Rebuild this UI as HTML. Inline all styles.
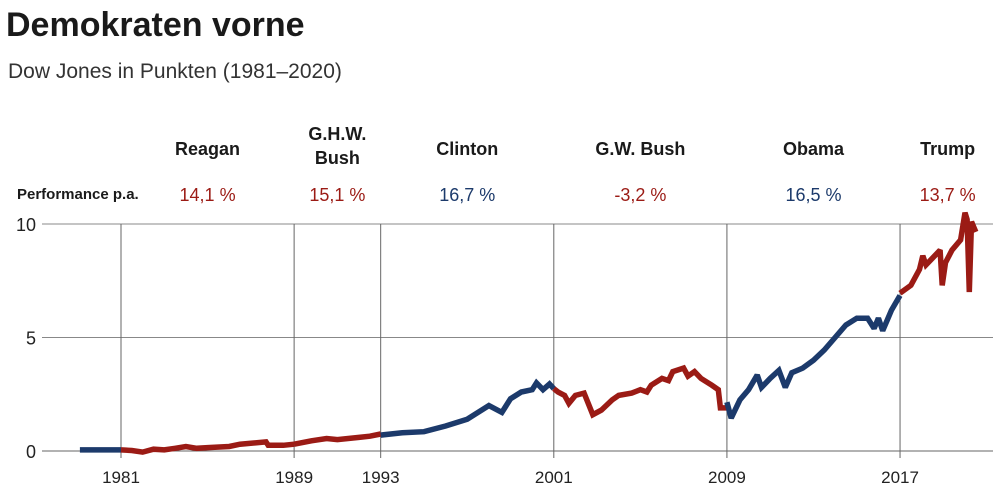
<!DOCTYPE html>
<html><head><meta charset="utf-8"><style>
body{margin:0;background:#fff;width:1000px;height:489px;overflow:hidden;font-family:"Liberation Sans",sans-serif}
svg{position:absolute;left:0;top:0}
</style></head><body>
<svg width="1000" height="489" font-family="Liberation Sans, sans-serif">
<text x="6" y="36" font-size="34" font-weight="bold" fill="#1a1a1a">Demokraten vorne</text>
<text x="8" y="78" font-size="21" fill="#333">Dow Jones in Punkten (1981–2020)</text>
<text x="17" y="199" font-size="15" font-weight="bold" fill="#1a1a1a">Performance p.a.</text>
<g id="grid"></g>
<g id="labels"></g>
<g id="lines"></g>
</svg>
<script>
const yTicks=[0,5,10];
const xTickYears=[1981,1989,1993,2001,2009,2017];
const presidents=["Reagan","G.H.W.|Bush","Clinton","G.W. Bush","Obama","Trump"];
const perf=["14,1 %","15,1 %","16,7 %","-3,2 %","16,5 %","13,7 %"];
const party=["r","r","d","r","d","r"];
const labelYears=[1985,1991,1997,2005,2013,2019.2];
const segCarter=[[1979.1,0.05],[1981,0.05]];
const segReagan=[[1981,0.05],[1981.5,0.02],[1982,-0.05],[1982.5,0.08],[1983,0.05],[1983.5,0.12],[1984,0.2],[1984.5,0.12],[1985,0.15],[1986,0.2],[1986.5,0.3],[1987.7,0.4],[1987.8,0.25],[1988.5,0.25],[1989,0.3]];
const segBush=[[1989,0.3],[1989.8,0.45],[1990.5,0.55],[1991,0.5],[1992,0.6],[1992.5,0.65],[1993,0.75]];
const segClinton=[[1993,0.7],[1994,0.8],[1995,0.85],[1996,1.1],[1997,1.4],[1998,2.0],[1998.6,1.7],[1999,2.3],[1999.5,2.6],[2000,2.7],[2000.2,3.0],[2000.5,2.7],[2000.8,2.95],[2001,2.75]];
const segGWB=[[2001,2.75],[2001.2,2.6],[2001.5,2.45],[2001.7,2.1],[2002,2.45],[2002.4,2.55],[2002.8,1.6],[2003.2,1.8],[2003.7,2.25],[2004,2.45],[2004.6,2.55],[2005,2.7],[2005.3,2.6],[2005.5,2.9],[2006,3.2],[2006.3,3.1],[2006.5,3.5],[2007,3.65],[2007.2,3.3],[2007.5,3.5],[2007.8,3.2],[2008.3,2.9],[2008.6,2.7],[2008.7,1.9],[2009,1.9]];
const segObama=[[2009,2.15],[2009.2,1.45],[2009.6,2.25],[2010,2.7],[2010.4,3.35],[2010.6,2.8],[2011,3.2],[2011.4,3.55],[2011.7,2.8],[2012,3.45],[2012.5,3.65],[2013,4.0],[2013.5,4.45],[2014,5.0],[2014.5,5.55],[2015,5.85],[2015.5,5.85],[2015.8,5.4],[2016,5.85],[2016.2,5.3],[2016.6,6.2],[2017,6.85]];
const segTrump=[[2017,6.95],[2017.5,7.3],[2017.9,8.0],[2018.05,8.6],[2018.2,8.2],[2018.6,8.6],[2018.85,8.85],[2018.95,7.3],[2019.1,8.3],[2019.4,8.85],[2019.8,9.3],[2020,10.5],[2020.1,10.2],[2020.2,7.0],[2020.3,10.1],[2020.5,9.65]];
const segs=[[segCarter,"d"],[segReagan,"r"],[segBush,"r"],[segClinton,"d"],[segGWB,"r"],[segObama,"d"],[segTrump,"r"]];
const col={r:"#9b1b15",d:"#1c3a6b"};
const xS=y=>121+(y-1981)*21.64;
const yS=v=>451-v*22.7;
const NS="http://www.w3.org/2000/svg";
function mk(t,a,p){const e=document.createElementNS(NS,t);for(const k in a)e.setAttribute(k,a[k]);p.appendChild(e);return e;}
const g=document.getElementById('grid'),L=document.getElementById('labels'),S=document.getElementById('lines');
yTicks.forEach(v=>{
 const l=mk('line',{x1:42,x2:993,y1:yS(v),y2:yS(v),stroke:v===0?'#666':'#888','stroke-width':1},g);
 
 
 const t=mk('text',{x:36,y:yS(v)+7,'font-size':18,'text-anchor':'end',fill:'#222'},g);t.textContent=v;
 
 
});
xTickYears.forEach(y=>{
 const l=mk('line',{x1:xS(y),x2:xS(y),y1:yS(10),y2:458,stroke:'#666','stroke-width':1},g);
 
 
 const t=mk('text',{x:xS(y),y:483,'font-size':17,'text-anchor':'middle',fill:'#222'},g);t.textContent=y;
 
 
});
presidents.forEach((p,i)=>{
 const x=xS(labelYears[i]);const parts=p.split('|');
 parts.forEach((s,j)=>{
  const y=parts.length>1?140+j*24:155;
  const t=mk('text',{x:x,y:y,'font-size':18,'font-weight':'bold','text-anchor':'middle',fill:'#1a1a1a'},L);t.textContent=s;
  
  
 });
 const t=mk('text',{x:x,y:201,'font-size':18,'text-anchor':'middle',fill:col[party[i]]},L);t.textContent=perf[i];
 
 
});
segs.forEach(([d,pty])=>{
 const pts=d.map(p=>xS(p[0]).toFixed(1)+','+yS(p[1]).toFixed(1)).join(' ');
 const pl=mk('polyline',{points:pts,fill:'none',stroke:col[pty],'stroke-width':5.5,'stroke-linejoin':'miter','stroke-miterlimit':2},S);
 
 
});
</script>
</body></html>
